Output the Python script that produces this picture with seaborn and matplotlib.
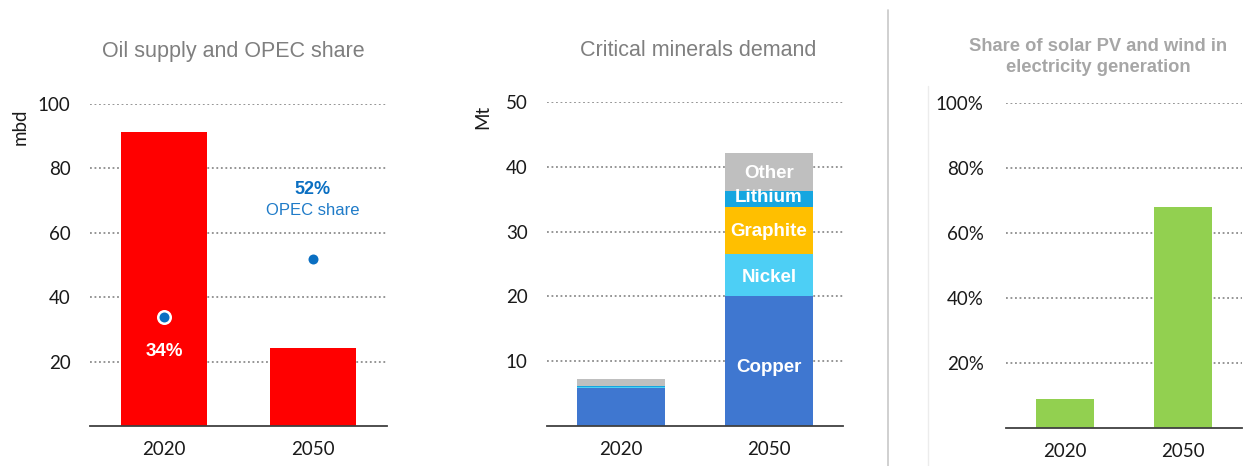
import matplotlib
matplotlib.use("Agg")
import matplotlib.pyplot as plt
import seaborn as sns
import numpy as np
import pandas as pd

# ---------------- data ----------------
years = ["2020", "2050"]
oil_supply = [91.2, 24.3]          # mbd
opec_share = [34, 52]              # %
opec_labels = ["34%", "52%"]

minerals = ["Copper", "Nickel", "Graphite", "Lithium", "Other"]
copper = [5.8, 20.0]
nickel = [0.15, 6.5]
graphite = [0.1, 7.3]
lithium = [0.05, 2.5]
other = [1.2, 5.8]

renew_share = [9, 68]              # %

oil_ticks = [20, 40, 60, 80, 100]
min_ticks = [10, 20, 30, 40, 50]
pct_ticks = [20, 40, 60, 80, 100]
pct_ticklabels = ["20%", "40%", "60%", "80%", "100%"]

# ---------------- style ----------------
sns.set_theme(style="white")
plt.rcParams["font.family"] = ["Liberation Sans", "DejaVu Sans"]

W, H = 1253, 466
fig = plt.figure(figsize=(W / 100, H / 100), dpi=100)

def px_axes(x0, x1, ytop, ybot):
    return fig.add_axes([x0 / W, (H - ybot) / H, (x1 - x0) / W, (ybot - ytop) / H])

TICK_FONT = "Lato"
TICK_COLOR = "#1a1a1a"
GRID_KW = dict(color="#8c8c8c", linestyle=(0, (1, 1.5)), linewidth=1.3)
BAR_KW = dict(saturation=1, linewidth=0, edgecolor="none")

def style_axes(ax, yticks, ylim, pad_y=13, yticklabels=None):
    ax.set_xlim(-0.5, 1.5)
    ax.set_ylim(*ylim)
    ax.set_yticks(yticks)
    if yticklabels is not None:
        ax.set_yticklabels(yticklabels)
    ax.set_axisbelow(True)
    ax.yaxis.grid(True, **GRID_KW)
    ax.xaxis.grid(False)
    for s in ["left", "right", "top"]:
        ax.spines[s].set_visible(False)
    ax.spines["bottom"].set_color("#404040")
    ax.spines["bottom"].set_linewidth(1.3)
    ax.tick_params(axis="y", length=0, pad=pad_y, labelsize=13.5, labelcolor=TICK_COLOR)
    ax.tick_params(axis="x", length=0, pad=11, labelsize=13.5, labelcolor=TICK_COLOR)
    for lab in ax.get_yticklabels() + ax.get_xticklabels():
        lab.set_fontfamily(TICK_FONT)
    ax.set_xlabel("")
    ax.set_ylabel("")

# ---------------- panel 1: oil ----------------
ax1 = px_axes(90, 387, 104, 426)
df_oil = pd.DataFrame({"year": years, "supply": oil_supply, "share": opec_share})
sns.barplot(data=df_oil, x="year", y="supply", color="#ff0000", width=0.58,
            ax=ax1, **BAR_KW)
sns.stripplot(data=df_oil, x="year", y="share", jitter=False, color="#0a6fc2",
              size=9, linewidth=1.8, edgecolor="white", ax=ax1, zorder=5)
style_axes(ax1, oil_ticks, (0, 100), pad_y=14)
ax1.text(0, 23, opec_labels[0], color="white", fontsize=13.5, fontweight="bold",
         ha="center", va="center")
ax1.text(1, 73.5, opec_labels[1], color="#0a6fc2", fontsize=13, fontweight="bold",
         ha="center", va="center")
ax1.text(1, 66.8, "OPEC share", color="#1f7bc8", fontsize=12,
         ha="center", va="center")
fig.text(233 / W, 1 - 51 / H, "Oil supply and OPEC share", color="#7f7f7f",
         fontsize=15.5, ha="center", va="center")
fig.text(20 / W, 1 - 127 / H, "mbd", rotation=90, color=TICK_COLOR, fontsize=13.5,
         ha="center", va="center", family=TICK_FONT)

# ---------------- panel 2: minerals ----------------
ax2 = px_axes(547, 843, 102, 426)
seg_values = [copper, nickel, graphite, lithium, other]
seg_colors = ["#3f77d0", "#4dcff5", "#ffbf00", "#16a6e0", "#bfbfbf"]
cum = np.cumsum(np.array(seg_values), axis=0)
# draw from top of stack downwards so lower segments overlay upper ones
for i in range(len(minerals) - 1, -1, -1):
    dfi = pd.DataFrame({"year": years, "value": cum[i]})
    sns.barplot(data=dfi, x="year", y="value", color=seg_colors[i], width=0.59,
                ax=ax2, **BAR_KW)
style_axes(ax2, min_ticks, (0, 50), pad_y=14)
label_pos = [9.0, 22.9, 30.0, 35.2, 38.9]
for name, ypos in zip(minerals, label_pos):
    ax2.text(1, ypos, name, color="white", fontsize=13.5, fontweight="bold",
             ha="center", va="center", zorder=6)
fig.text(698 / W, 1 - 51 / H, "Critical minerals demand", color="#7f7f7f",
         fontsize=15.5, ha="center", va="center")
fig.text(483 / W, 1 - 117 / H, "Mt", rotation=90, color=TICK_COLOR, fontsize=13.5,
         ha="center", va="center", family=TICK_FONT)

# ---------------- panel 3: renewables ----------------
ax3 = px_axes(1006, 1242, 103, 428)
df_ren = pd.DataFrame({"year": years, "share": renew_share})
sns.barplot(data=df_ren, x="year", y="share", color="#92d050", width=0.49,
            ax=ax3, **BAR_KW)
style_axes(ax3, pct_ticks, (0, 100), pad_y=16, yticklabels=pct_ticklabels)
fig.text(1098 / W, 1 - 57 / H, "Share of solar PV and wind in\nelectricity generation",
         color="#a6a6a6", fontsize=13.2, fontweight="bold", ha="center", va="center",
         linespacing=1.25)

# separators
fig.add_artist(plt.Line2D([888 / W, 888 / W], [0, 1 - 10 / H], color="#c8c8c8",
                          linewidth=1.2, transform=fig.transFigure))
fig.add_artist(plt.Line2D([928 / W, 928 / W], [0, 1 - 86 / H], color="#ececec",
                          linewidth=1.0, transform=fig.transFigure))

fig.savefig("out.png", dpi=100, facecolor="white")
